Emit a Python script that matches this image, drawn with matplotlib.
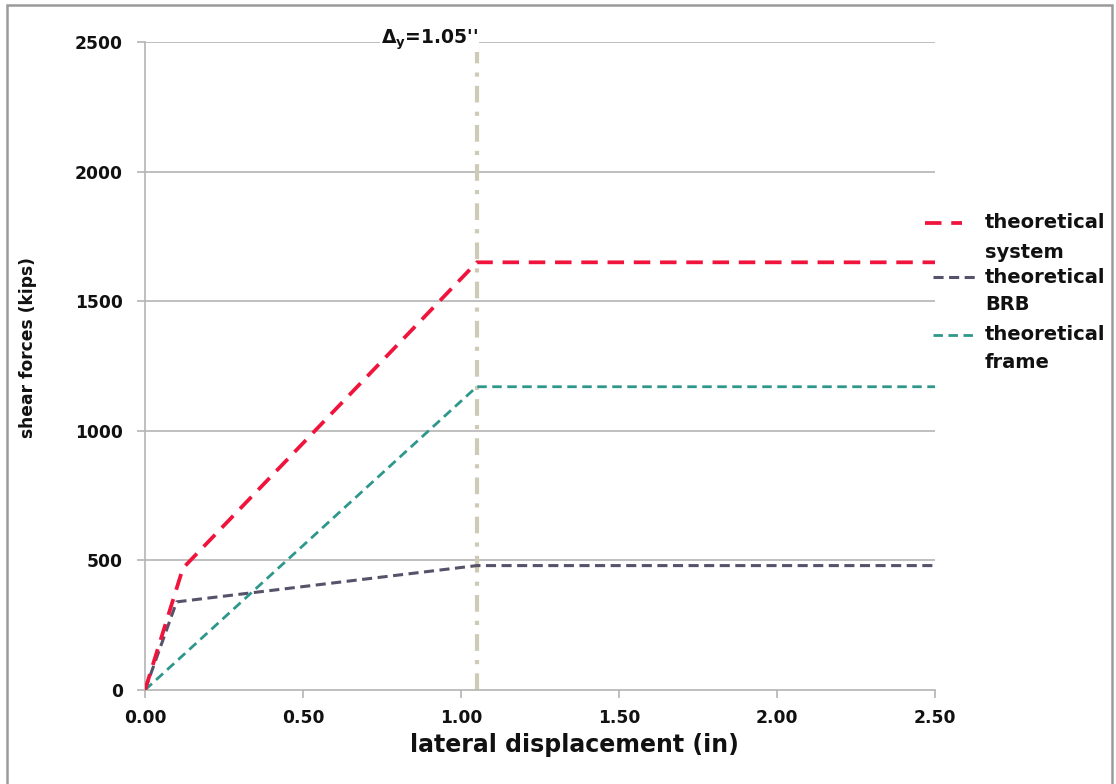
import matplotlib
matplotlib.use("Agg")
import matplotlib.pyplot as plt
from matplotlib.patches import Rectangle
from matplotlib.lines import Line2D

# Pushover curves (lateral displacement in inches vs shear force in kips)
system_x = [0.0, 0.12, 1.05, 2.50]
system_y = [0, 470, 1650, 1650]
brb_x = [0.0, 0.10, 1.05, 2.50]
brb_y = [0, 340, 480, 480]
frame_x = [0.0, 1.05, 2.50]
frame_y = [0, 1170, 1170]
yield_disp = 1.05

x_ticks = [0.0, 0.5, 1.0, 1.5, 2.0, 2.5]
x_tick_labels = ["0.00", "0.50", "1.00", "1.50", "2.00", "2.50"]
y_ticks = [0, 500, 1000, 1500, 2000, 2500]
legend_labels = [("theoretical", "system"), ("theoretical", "BRB"), ("theoretical", "frame")]

plt.rcParams["font.family"] = ["DejaVu Sans"]
plt.rcParams["font.weight"] = "bold"
plt.rcParams["mathtext.fontset"] = "custom"
plt.rcParams["mathtext.rm"] = "DejaVu Sans:bold"
plt.rcParams["mathtext.it"] = "DejaVu Sans:bold"

W, H = 1116, 784
fig = plt.figure(figsize=(W / 100, H / 100), dpi=100)
ax = fig.add_axes([145 / W, 1 - 690 / H, (935 - 145) / W, (690 - 42) / H])

ax.set_xlim(0, 2.5)
ax.set_ylim(0, 2500)

grid_c = "#b4b4b4"
for yv in y_ticks[1:]:
    ax.axhline(yv, color=grid_c, lw=1.2, zorder=1)

# yield displacement marker
ax.plot([yield_disp, yield_disp], [0, 2520], color="#cdcab6", lw=3,
        dashes=(4, 2.2, 1, 2.2), clip_on=False, zorder=2)

styles = [
    dict(color="#f0143c", lw=2.7, dashes=(4.4, 2.6)),
    dict(color="#55526a", lw=2.2, dashes=(3.3, 1.8)),
    dict(color="#2e978c", lw=2.0, dashes=(3.4, 2.0)),
]
ax.plot(system_x, system_y, zorder=4, **styles[0])
ax.plot(brb_x, brb_y, zorder=3, **styles[1])
ax.plot(frame_x, frame_y, zorder=3, **styles[2])

for s in ["top", "right"]:
    ax.spines[s].set_visible(False)
for s in ["left", "bottom"]:
    ax.spines[s].set_color(grid_c)
    ax.spines[s].set_linewidth(1.2)

ax.set_xticks(x_ticks)
ax.set_xticklabels(x_tick_labels)
ax.set_yticks(y_ticks)
ax.tick_params(axis="both", colors=grid_c, length=6, width=1.2,
               labelcolor="#111111", labelsize=12.3)
ax.tick_params(axis="x", pad=8)
ax.tick_params(axis="y", pad=10)

ax.set_xlabel("lateral displacement (in)", fontsize=17, fontweight="bold",
              color="#111111")
ax.xaxis.set_label_coords((574 - 145) / (935 - 145), -(733 - 690) / (690 - 42))
ax.set_ylabel("shear forces (kips)", fontsize=12.3, fontweight="bold",
              color="#111111")
ax.yaxis.set_label_coords(-(145 - 37) / (935 - 145), (690 - 348) / (690 - 42))

ax.text(yield_disp + 0.005, 2510, r"$\Delta_y$=1.05''", fontsize=13.5,
        fontweight="bold", ha="right", va="center", color="#111111",
        bbox=dict(facecolor="white", edgecolor="none", pad=0.5), zorder=5)

# legend: handle drawn beside the first line of each two-line label
leg_rows = [(223, 252), (277, 305), (335, 363)]
leg_handles = [(925, 962), (933, 975), (933, 975)]
for lines, rows, (x0, x1), st in zip(legend_labels, leg_rows, leg_handles, styles):
    fig.add_artist(Line2D([x0 / W, x1 / W], [1 - rows[0] / H, 1 - rows[0] / H],
                          transform=fig.transFigure, **st))
    for txt, row in zip(lines, rows):
        fig.text(985 / W, 1 - row / H, txt, fontsize=14, fontweight="bold",
                 color="#111111", ha="left", va="center")

# outer frame around the chart area
fig.patches.append(Rectangle((7 / W, -0.01), (1112 - 7) / W, 1 - 5 / H + 0.01,
                             transform=fig.transFigure, fill=False,
                             edgecolor="#9a9a9a", lw=1.8))

fig.savefig("out.png", dpi=100)
